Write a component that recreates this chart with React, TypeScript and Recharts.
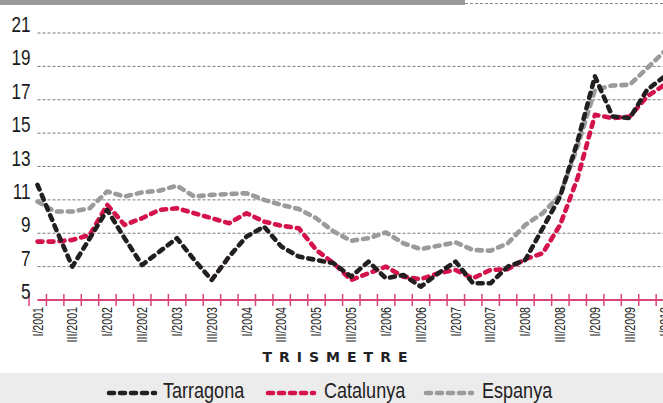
import { LineChart, Line, XAxis, YAxis, CartesianGrid } from "recharts";

const FONT = '"Liberation Sans", Arial, sans-serif';
const PINK = "#d9457a";

const QUARTERS = [
  "I/2001", "II/2001", "III/2001", "IV/2001",
  "I/2002", "II/2002", "III/2002", "IV/2002",
  "I/2003", "II/2003", "III/2003", "IV/2003",
  "I/2004", "II/2004", "III/2004", "IV/2004",
  "I/2005", "II/2005", "III/2005", "IV/2005",
  "I/2006", "II/2006", "III/2006", "IV/2006",
  "I/2007", "II/2007", "III/2007", "IV/2007",
  "I/2008", "II/2008", "III/2008", "IV/2008",
  "I/2009", "II/2009", "III/2009", "IV/2009",
  "I/2010",
];

const TARRAGONA = [
  11.9, 9.4, 7.0, 8.7, 10.4, 8.7, 7.1, 7.9, 8.7, 7.4,
  6.2, 7.6, 8.8, 9.4, 8.2, 7.6, 7.4, 7.2, 6.4, 7.3,
  6.3, 6.5, 5.8, 6.6, 7.3, 6.0, 6.0, 7.0, 7.4, 9.3,
  11.2, 14.5, 18.4, 16.0, 15.9, 17.6, 18.4,
];

const CATALUNYA = [
  8.5, 8.5, 8.6, 8.9, 10.7, 9.5, 9.9, 10.4, 10.5, 10.2,
  9.9, 9.6, 10.2, 9.7, 9.45, 9.3, 8.0, 7.2, 6.2, 6.6,
  7.0, 6.4, 6.25, 6.6, 6.8, 6.3, 6.8, 6.85, 7.45, 7.8,
  9.5, 12.3, 16.1, 15.9, 16.0, 17.2, 17.9,
];

const ESPANYA = [
  10.9, 10.3, 10.3, 10.5, 11.5, 11.2, 11.45, 11.55, 11.85, 11.2,
  11.3, 11.35, 11.4, 11.0, 10.7, 10.45, 9.9, 9.1, 8.55, 8.7,
  9.05, 8.4, 8.05, 8.25, 8.45, 8.0, 7.95, 8.4, 9.5, 10.2,
  11.3, 14.2, 17.6, 17.85, 17.9, 18.9, 19.9,
];

const Y_TICKS = [5, 7, 9, 11, 13, 15, 17, 19, 21];

const SERIES = [
  { key: "Espanya", color: "#9b9b9b" },
  { key: "Catalunya", color: "#d4124b" },
  { key: "Tarragona", color: "#231f20" },
];

const data = QUARTERS.map((q, i) => ({
  q,
  Tarragona: TARRAGONA[i],
  Catalunya: CATALUNYA[i],
  Espanya: ESPANYA[i],
}));

const Y_AXIS_W = 37.5;
const BAND = 16.95;
const PLOT_W = BAND * QUARTERS.length;

const LINE_STYLE = {
  strokeWidth: 4.6,
  strokeDasharray: "5 6",
  strokeLinecap: "round" as const,
  strokeLinejoin: "round" as const,
};

const XTick = (props: any) => {
  const { x, y, payload, index } = props;
  const left = x - BAND / 2;
  return (
    <g>
      <line x1={left} x2={left} y1={y - 6} y2={y + 6} stroke={PINK} strokeWidth={1.5} />
      {index % 2 === 0 && (
        <text
          transform={`translate(${x}, ${y + 7}) rotate(-90) scale(0.76, 1)`}
          textAnchor="end"
          dy="0.36em"
          fontSize={14}
          fontFamily={FONT}
          fill="#1a1a1a"
        >
          {payload.value}
        </text>
      )}
    </g>
  );
};

const YTick = (props: any) => {
  const { x, y, payload } = props;
  return (
    <text
      transform={`translate(${x}, ${y - 1}) scale(0.78, 1)`}
      textAnchor="end"
      fontSize={22}
      fontFamily={FONT}
      fill="#1a1a1a"
    >
      {payload.value}
    </text>
  );
};

const LEGEND = [
  { name: "Tarragona", color: "#231f20", x1: 106, x2: 158, tx: 163 },
  { name: "Catalunya", color: "#d4124b", x1: 265, x2: 317, tx: 324 },
  { name: "Espanya", color: "#9b9b9b", x1: 423, x2: 475, tx: 482 },
];

export default function App() {
  return (
    <div
      style={{
        position: "absolute",
        left: 0,
        top: 0,
        width: 663,
        height: 403,
        overflow: "hidden",
        background: "#fff",
      }}
    >
      <div style={{ position: "absolute", left: 0, top: 0, width: 465, height: 5, background: "#9a9a9a" }} />
      <div
        style={{
          position: "absolute",
          left: 465,
          top: 3,
          width: 198,
          height: 0,
          borderTop: "1px dashed #888",
        }}
      />

      <div style={{ position: "absolute", left: 0, top: 0 }}>
        <LineChart
          width={Y_AXIS_W + PLOT_W}
          height={373}
          data={data}
          margin={{ top: 33, right: 0, bottom: 0, left: 0 }}
        >
          <CartesianGrid horizontal vertical={false} stroke="#777" strokeDasharray="3 2" />
          <XAxis
            dataKey="q"
            interval={0}
            height={73}
            tickLine={false}
            tickSize={0}
            tickMargin={0}
            axisLine={{ stroke: PINK, strokeWidth: 2 }}
            tick={<XTick />}
          />
          <YAxis
            width={Y_AXIS_W}
            domain={[5, 21]}
            ticks={Y_TICKS}
            axisLine={false}
            tickLine={false}
            tickSize={5}
            tickMargin={2}
            tick={<YTick />}
          />
          {SERIES.map((s) => (
            <Line
              key={s.key}
              type="linear"
              dataKey={s.key}
              stroke={s.color}
              dot={false}
              activeDot={false}
              isAnimationActive={false}
              {...LINE_STYLE}
            />
          ))}
        </LineChart>
      </div>

      <div
        style={{
          position: "absolute",
          left: 0,
          width: 663,
          top: 349,
          textAlign: "center",
          paddingLeft: 7,
          fontFamily: '"DejaVu Sans", sans-serif',
          fontWeight: "bold",
          fontSize: 14,
          letterSpacing: 7,
          color: "#222",
          lineHeight: "16px",
        }}
      >
        TRISMETRE
      </div>

      <svg style={{ position: "absolute", left: 0, top: 373 }} width={663} height={30}>
        <rect x={0} y={0} width={663} height={30} fill="#ececec" />
        {LEGEND.map((l) => (
          <g key={l.name}>
            <line x1={l.x1 + 3} x2={l.x2 - 3} y1={20} y2={20} stroke={l.color} {...LINE_STYLE} />
            <text
              transform={`translate(${l.tx}, 25) scale(0.82, 1)`}
              fontSize={22}
              fontFamily={FONT}
              fill="#222"
            >
              {l.name}
            </text>
          </g>
        ))}
      </svg>
    </div>
  );
}
